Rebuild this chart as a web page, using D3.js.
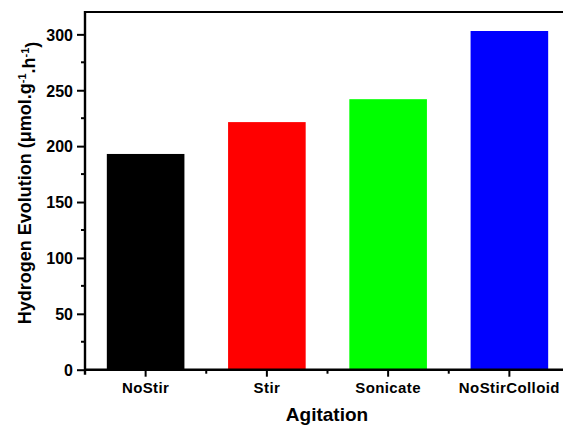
<!DOCTYPE html>
<html>
<head>
<meta charset="utf-8">
<script src="https://cdn.jsdelivr.net/npm/d3@7"></script>
<style>
  html, body { margin: 0; padding: 0; background: #fff; }
  svg { display: block; }
  text { font-family: "Liberation Sans", Arial, sans-serif; font-weight: bold; fill: #000; }
</style>
</head>
<body>
<svg id="chart" width="563" height="425"></svg>
<script>
const categories = ["NoStir", "Stir", "Sonicate", "NoStirColloid"];
const values = [193, 221.5, 242, 303];
const colors = ["#000000", "#ff0000", "#00ff00", "#0000ff"];
const yTicks = [0, 50, 100, 150, 200, 250, 300];
const yMinorTicks = [25, 75, 125, 175, 225, 275];

(function () {
const svg = d3.select("#chart");
const mLeft = 85, mRight = 570, mTop = 12, mBottom = 369.7;

const x = d3.scaleBand().domain(categories).range([mLeft, mRight])
  .paddingInner(0.36).paddingOuter(0.18);
const y = d3.scaleLinear().domain([0, 320]).range([mBottom, mTop]);

// bars
svg.append("g").selectAll("rect").data(categories).join("rect")
  .attr("x", d => x(d))
  .attr("width", x.bandwidth())
  .attr("y", (d, i) => y(values[i]))
  .attr("height", (d, i) => y(0) - y(values[i]))
  .attr("fill", (d, i) => colors[i]);

// frame top
svg.append("line").attr("x1", mLeft).attr("x2", 563).attr("y1", mTop).attr("y2", mTop)
  .attr("stroke", "#000").attr("stroke-width", 2.2);

// y axis
const yAxis = d3.axisLeft(y).tickValues(yTicks).tickSize(8).tickPadding(4).tickFormat(d3.format("d"));
const gy = svg.append("g").attr("transform", `translate(${mLeft},0)`).call(yAxis);
gy.select(".domain").remove();
gy.selectAll(".tick line").attr("stroke", "#000").attr("stroke-width", 2);
gy.selectAll(".tick text").style("font-size", "16px").attr("dy", "0.36em");
svg.append("line").attr("x1", mLeft).attr("x2", mLeft).attr("y1", mTop - 1).attr("y2", mBottom + 5)
  .attr("stroke", "#000").attr("stroke-width", 2.4);
svg.append("g").selectAll("line").data(yMinorTicks).join("line")
  .attr("x1", mLeft - 4).attr("x2", mLeft).attr("y1", d => y(d)).attr("y2", d => y(d))
  .attr("stroke", "#000").attr("stroke-width", 2);

// x axis
const xAxis = d3.axisBottom(x).tickSize(7).tickPadding(6);
const gx = svg.append("g").attr("transform", `translate(0,${mBottom})`).call(xAxis);
gx.select(".domain").remove();
gx.selectAll(".tick line").attr("stroke", "#000").attr("stroke-width", 2);
gx.selectAll(".tick text").style("font-size", "15px").style("letter-spacing", "0.4px");
svg.append("line").attr("x1", mLeft - 1).attr("x2", 563).attr("y1", mBottom).attr("y2", mBottom)
  .attr("stroke", "#000").attr("stroke-width", 2.4);
const minorX = categories.slice(0, -1).map(c => x(c) + x.bandwidth() / 2 + x.step() / 2);
svg.append("g").selectAll("line").data(minorX).join("line")
  .attr("x1", d => d).attr("x2", d => d).attr("y1", mBottom).attr("y2", mBottom + 4)
  .attr("stroke", "#000").attr("stroke-width", 2);

// axis titles
svg.append("text").attr("x", 327).attr("y", 421)
  .attr("text-anchor", "middle").style("font-size", "19px").text("Agitation");

const yt = svg.append("text").attr("transform", `translate(31,183) rotate(-90)`)
  .attr("text-anchor", "middle").style("font-size", "18px");
yt.append("tspan").text("Hydrogen Evolution (μmol.g");
yt.append("tspan").attr("dy", "-0.5em").style("font-size", "11px").text("-1");
yt.append("tspan").attr("dy", "0.5em").text(".h");
yt.append("tspan").attr("dy", "-0.5em").style("font-size", "11px").text("-1");
yt.append("tspan").attr("dy", "0.5em").text(")");
})();
</script>
</body>
</html>
